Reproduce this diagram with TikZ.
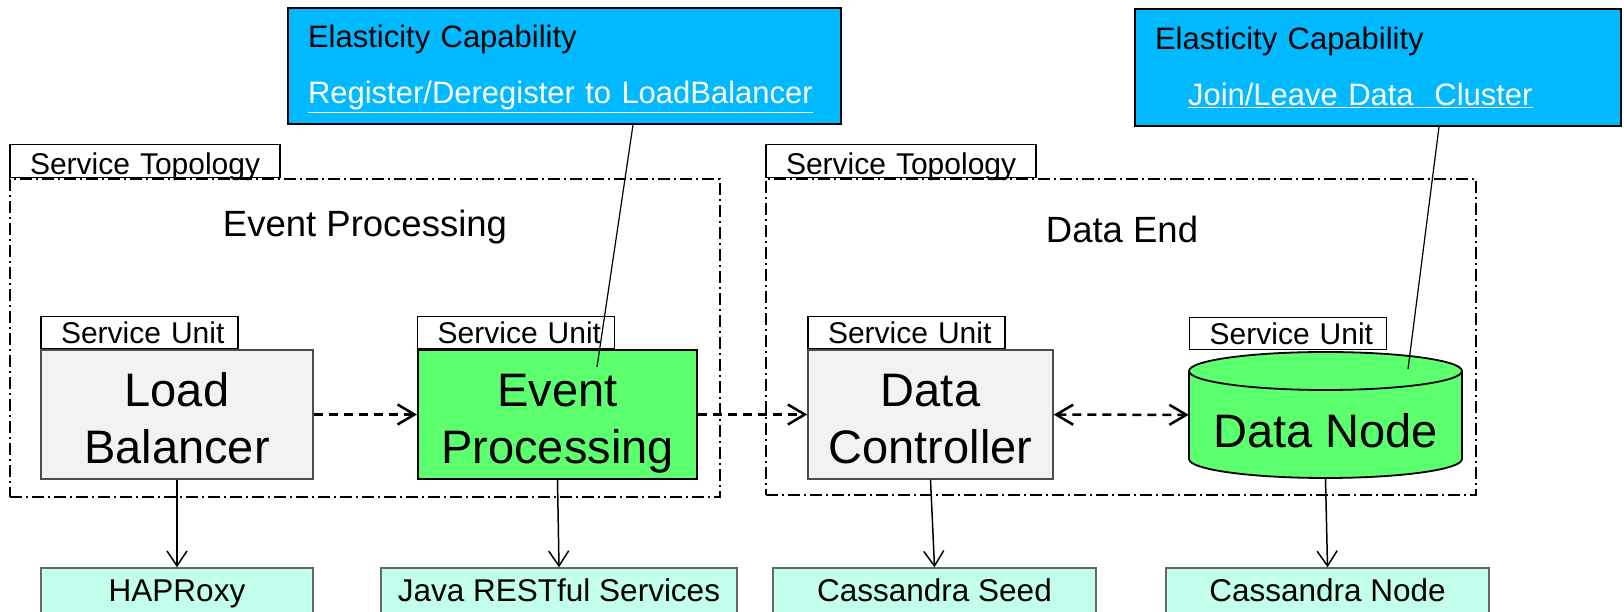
\documentclass[tikz,border=0pt]{standalone}
\usepackage{fontspec}
\setmainfont{Liberation Sans}
\usepackage{tikz}
\usetikzlibrary{arrows.meta,calc}
\definecolor{ecBlue}{HTML}{00B9FF}
\definecolor{suGreen}{HTML}{5CFF6E}
\definecolor{suGray}{HTML}{F2F2F2}
\definecolor{swAqua}{HTML}{C2FFEC}

\begin{document}
\begin{tikzpicture}[x=1pt,y=1pt,
  topo/.style={draw, line width=1.4pt, dash pattern=on 12pt off 4pt on 2pt off 4pt},
  tab/.style={draw, line width=1.4pt, fill=white, anchor=south west, align=left,
    inner xsep=20pt, inner ysep=0pt, text width=#1, font=\fontsize{30}{36}\selectfont},
  toptab/.style={tab=230pt, minimum height=33pt, text height=27pt, text depth=0pt},
  sutab/.style={tab=157pt, minimum height=32pt, text height=22pt, text depth=0pt},
  title/.style={anchor=base, font=\fontsize{36.5}{44}\selectfont},
  unit/.style={draw, line width=1.4pt, minimum height=129pt, inner ysep=0pt, align=center,
    text height=114pt, text depth=15pt, font=\fontsize{47}{57}\selectfont},
  ec/.style={draw, line width=1.8pt, fill=ecBlue, align=left, inner xsep=20pt, inner ysep=0pt,
    text height=40pt, text depth=76pt, font=\fontsize{31}{56}\selectfont},
  sw/.style={draw=black!60, line width=1.4pt, fill=swAqua, minimum height=46pt, inner ysep=0pt,
    text height=34pt, text depth=12pt, font=\fontsize{31.5}{36}\selectfont},
  flow/.style={line width=2.5pt, dash pattern=on 9pt off 6pt, -{Straight Barb[length=17pt,width=20pt]}},
  dep/.style={line width=1.5pt, -{Straight Barb[length=15pt,width=20pt]}},
  note/.style={line width=1.2pt}]
\useasboundingbox (0,0) rectangle (1624,612);
% service topologies
\node[topo, minimum width=710pt, minimum height=318pt] (topo1) at (365,274) {};
\node[topo, minimum width=710pt, minimum height=316pt] (topo2) at (1121,275) {};
\node[toptab] (tt1) at (topo1.north west) {\mbox{Service Topology}};
\node[toptab] (tt2) at (topo2.north west) {\mbox{Service Topology}};
\node[title] (t1) at (365,375) {Event Processing};
\node[title] (t2) at (1122,369) {Data End};
% service units
\node[unit, fill=suGray, draw=black!70, minimum width=272pt] (lb) at (177,197.5) {Load\\Balancer};
\node[unit, fill=suGreen, line width=2pt, minimum width=279pt] (ep) at (557.5,197.5) {Event\\Processing};
\node[unit, fill=suGray, draw=black!70, minimum width=245pt] (dc) at (930.5,197.5) {Data\\Controller};
\filldraw[fill=suGreen, line width=1.8pt] (1189,241) -- (1189,153)
  arc[start angle=180, end angle=360, x radius=136.5pt, y radius=19pt] -- (1462,241)
  arc[start angle=0, end angle=180, x radius=136.5pt, y radius=19pt] -- cycle;
\draw[line width=1.8pt] (1189,241) arc[start angle=180, end angle=360, x radius=136.5pt, y radius=19pt];
\node[font=\fontsize{47}{57}\selectfont, minimum width=273pt, minimum height=126pt, inner sep=0pt,
  text height=66pt, text depth=0pt] (dn) at (1325.5,197) {Data Node};
\node[sutab] (su1) at (lb.north west) {\mbox{Service Unit}};
\node[sutab] (su2) at (ep.north west) {\mbox{Service Unit}};
\node[sutab] (su3) at (dc.north west) {\mbox{Service Unit}};
\node[sutab] (su4) at (1189,262) {\mbox{Service Unit}};
% software
\node[sw, minimum width=272pt] (hap) at (177,21) {HAPRoxy};
\node[sw, minimum width=356pt] (java) at (559,21) {Java RESTful Services};
\node[sw, minimum width=323pt] (seed) at (934.5,21) {Cassandra Seed};
\node[sw, minimum width=323pt] (cnode) at (1327.5,21) {Cassandra Node};
% elasticity capabilities
\node[ec, text width=513pt] (ec1) at (564.5,546)
  {Elasticity Capability\\{\color{white}\underline{Register/Deregister to LoadBalancer}}};
\node[ec, text width=446pt, text height=41pt] (ec2) at (1378,544.5)
  {Elasticity Capability\\\hspace*{33pt}{\color{white}\underline{Join/Leave Data\ \ Cluster}}};
% connectors
\draw[flow] (lb) -- (ep);
\draw[flow] (ep) -- (dc);
\draw[flow, {Straight Barb[length=17pt,width=20pt]}-{Straight Barb[length=17pt,width=20pt]}] (dc) -- (dn);
\foreach \a/\b in {lb/hap, ep/java, dc/seed, dn/cnode}
  \draw[dep] (\a.south) -- (\b.north);
\coordinate (p1) at (597,245);
\coordinate (p2) at (1408,243);
\draw[note] ([xshift=68.5pt]ec1.south) -- (p1);
\draw[note] ([xshift=61pt]ec2.south) -- (p2);
\end{tikzpicture}
\end{document}
